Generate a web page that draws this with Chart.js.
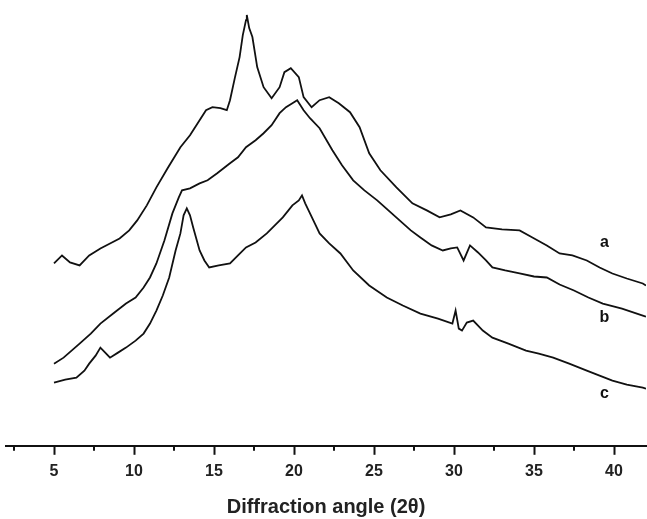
<!DOCTYPE html>
<html>
<head>
<meta charset="utf-8">
<script src="https://cdn.jsdelivr.net/npm/chart.js@4.4.1/dist/chart.umd.min.js"></script>
<style>
  html, body { margin: 0; padding: 0; background: #ffffff; }
  #myChart { display: block; }
</style>
</head>
<body>
<canvas id="myChart" width="647" height="519"></canvas>
<script>

// diffraction angle (2 theta) and intensity (arbitrary units) for each curve
const angleA = [5.0, 5.5, 6.0, 6.6, 7.2, 7.9, 8.5, 9.1, 9.7, 10.2, 10.8, 11.4, 12.1, 12.9, 13.5, 14.1, 14.5, 14.9, 15.4, 15.8, 16.0, 16.3, 16.6, 16.8, 17.0, 17.05, 17.2, 17.4, 17.7, 18.1, 18.6, 19.1, 19.4, 19.8, 20.3, 20.6, 21.1, 21.6, 22.2, 22.8, 23.5, 24.1, 24.7, 25.4, 26.4, 27.4, 28.3, 29.1, 29.8, 30.4, 31.2, 32.0, 33.0, 34.1, 34.9, 35.8, 36.6, 37.4, 38.3, 39.1, 39.9, 40.8, 41.8, 42.0];
const intensityA = [182, 190, 183, 180, 190, 197, 202, 207, 215, 225, 240, 258, 277, 298, 310, 325, 335, 338, 337, 335, 345, 367, 388, 410, 425, 430, 417, 408, 378, 358, 347, 358, 373, 377, 368, 348, 338, 345, 348, 342, 333, 318, 292, 275, 258, 242, 235, 228, 231, 235, 228, 218, 216, 215, 208, 200, 192, 190, 185, 178, 172, 167, 162, 160];

const angleB = [5.0, 5.6, 6.6, 7.3, 7.9, 8.7, 9.5, 10.1, 10.6, 11.0, 11.4, 11.9, 12.4, 12.8, 13.0, 13.5, 14.1, 14.6, 15.2, 15.6, 16.0, 16.5, 17.0, 17.6, 18.1, 18.6, 19.1, 19.5, 19.9, 20.2, 20.6, 21.0, 21.6, 22.4, 23.0, 23.7, 24.4, 25.2, 25.9, 26.6, 27.3, 27.9, 28.6, 29.3, 29.8, 30.2, 30.6, 31.0, 31.5, 32.0, 32.4, 33.2, 34.1, 35.0, 35.8, 36.6, 37.5, 38.4, 39.3, 40.5, 41.8, 42.0];
const intensityB = [82, 88, 102, 112, 122, 132, 142, 148, 158, 168, 182, 205, 232, 248, 255, 257, 262, 265, 272, 277, 282, 288, 298, 305, 312, 320, 332, 338, 342, 345, 335, 327, 317, 295, 280, 265, 255, 245, 235, 225, 215, 208, 200, 195, 197, 198, 185, 200, 193, 185, 178, 175, 172, 169, 168, 161, 155, 148, 142, 137, 130, 129];

const angleC = [5.0, 5.7, 6.4, 6.9, 7.2, 7.6, 7.9, 8.2, 8.5, 9.0, 9.5, 10.1, 10.6, 11.0, 11.4, 11.8, 12.2, 12.6, 12.9, 13.1, 13.3, 13.5, 13.7, 14.1, 14.4, 14.7, 15.3, 16.0, 16.5, 17.0, 17.6, 18.3, 18.8, 19.3, 19.9, 20.3, 20.5, 20.7, 21.0, 21.3, 21.6, 22.2, 22.9, 23.7, 24.7, 25.8, 26.8, 27.9, 29.0, 29.9, 30.1, 30.3, 30.5, 30.8, 31.2, 31.8, 32.4, 33.4, 34.5, 35.3, 36.2, 37.2, 38.3, 39.1, 39.9, 40.8, 41.8, 42.0];
const intensityC = [63, 66, 68, 75, 82, 90, 98, 93, 88, 93, 98, 105, 112, 122, 135, 150, 168, 195, 212, 230, 237, 230, 218, 195, 185, 178, 180, 182, 190, 198, 203, 212, 220, 228, 240, 245, 250, 242, 232, 222, 212, 202, 192, 175, 160, 148, 140, 132, 127, 122, 135, 117, 115, 123, 125, 115, 108, 102, 95, 92, 88, 82, 75, 70, 65, 61, 58, 57];

const curveNames = ["a", "b", "c"];
const majorTicks = [5, 10, 15, 20, 25, 30, 35, 40];
const minorTicks = [2.5, 7.5, 12.5, 17.5, 22.5, 27.5, 32.5, 37.5];

function toPoints(xs, ys) {
    return xs.map((x, i) => ({ x: x, y: ys[i] }));
}

const myChartCanvas = document.getElementById("myChart");
const inkColor = "#111111";

// short ticks half way between the labelled ones
const minorTickPlugin = {
    id: "minorTicks",
    afterDraw(chart) {
        const ctx = chart.ctx;
        const xScale = chart.scales.x;
        const y0 = chart.chartArea.bottom;
        ctx.save();
        ctx.strokeStyle = inkColor;
        ctx.lineWidth = 2;
        minorTicks.forEach(v => {
            const px = Math.round(xScale.getPixelForValue(v));
            ctx.beginPath();
            ctx.moveTo(px, y0);
            ctx.lineTo(px, y0 + 5);
            ctx.stroke();
        });
        ctx.restore();
    }
};

// letters a, b, c at the right end of each curve
const curveLabelPlugin = {
    id: "curveLabels",
    afterDatasetsDraw(chart) {
        const ctx = chart.ctx;
        const xScale = chart.scales.x;
        const yScale = chart.scales.y;
        const labelY = [203, 128, 52];
        ctx.save();
        ctx.fillStyle = inkColor;
        ctx.font = "bold 16px 'Liberation Sans', Arial, sans-serif";
        ctx.textAlign = "center";
        ctx.textBaseline = "middle";
        curveNames.forEach((name, i) => {
            ctx.fillText(name, xScale.getPixelForValue(39.4), yScale.getPixelForValue(labelY[i]));
        });
        ctx.restore();
    }
};

const chartData = {
    datasets: [
        { label: curveNames[0], data: toPoints(angleA, intensityA) },
        { label: curveNames[1], data: toPoints(angleB, intensityB) },
        { label: curveNames[2], data: toPoints(angleC, intensityC) }
    ].map(ds => Object.assign(ds, {
        borderColor: inkColor,
        borderWidth: 1.8,
        pointRadius: 0,
        tension: 0,
        fill: false
    }))
};

const chartConfig = {
    type: "line",
    data: chartData,
    options: {
        responsive: false,
        animation: false,
        layout: { padding: { left: 6, right: 1, top: 0, bottom: 0 } },
        plugins: {
            legend: { display: false },
            tooltip: { enabled: false }
        },
        scales: {
            x: {
                type: "linear",
                min: 2,
                max: 42,
                afterBuildTicks: axis => {
                    axis.ticks = majorTicks.map(v => ({ value: v }));
                },
                border: { display: true, color: inkColor, width: 2 },
                grid: {
                    drawOnChartArea: false,
                    drawTicks: true,
                    tickLength: 9,
                    tickWidth: 2,
                    tickColor: inkColor
                },
                ticks: {
                    color: "#222222",
                    padding: 7,
                    maxRotation: 0,
                    autoSkip: false,
                    font: { family: "'Liberation Sans', Arial, sans-serif", size: 16, weight: "bold" }
                },
                title: {
                    display: true,
                    text: "Diffraction angle (2\u03b8)",
                    color: "#222222",
                    padding: { top: 7, bottom: 0 },
                    font: { family: "'Liberation Sans', Arial, sans-serif", size: 20, weight: "bold" }
                }
            },
            y: {
                display: false,
                min: 0,
                max: 445
            }
        }
    },
    plugins: [minorTickPlugin, curveLabelPlugin]
};

const myChart = new Chart(myChartCanvas, chartConfig);
</script>
</body>
</html>
